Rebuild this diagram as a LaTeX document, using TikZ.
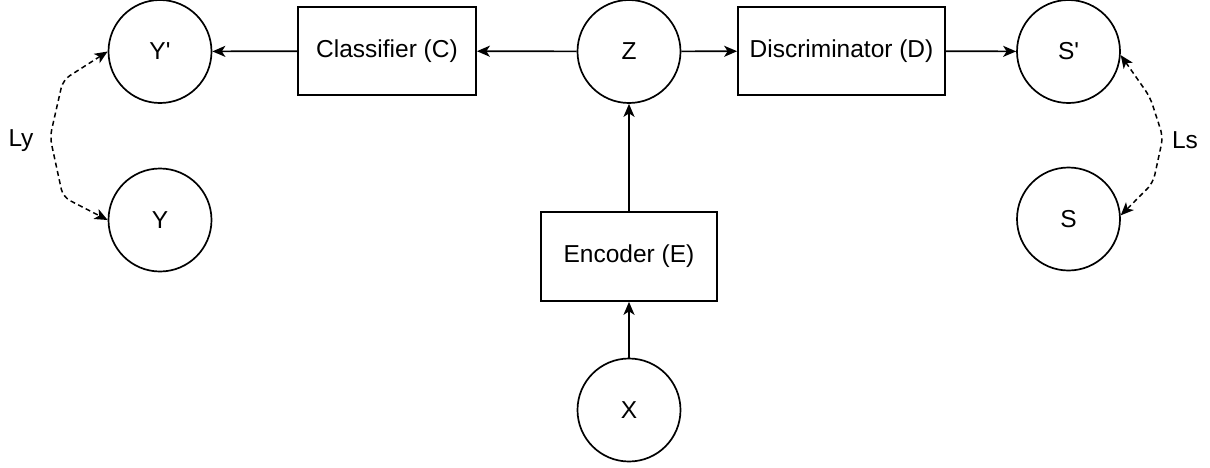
\documentclass[tikz,border=0pt]{standalone}
\usepackage{fontspec}
\setmainfont{Liberation Sans}
\usetikzlibrary{arrows.meta}
\begin{document}
\begin{tikzpicture}[x=1pt,y=-1pt,
  every node/.style={font=\fontsize{24.5}{29}\selectfont, text=black},
  circ/.style={draw, circle, minimum size=103pt, inner sep=0pt, line width=1.7pt},
  blk/.style={draw, rectangle, minimum height=88pt, inner sep=0pt, line width=1.7pt},
  flow/.style={-{Stealth[length=13pt,width=11pt,inset=3.5pt]}, line width=1.7pt},
  loss/.style={{Stealth[length=13pt,width=11pt,inset=3.5pt]}-{Stealth[length=13pt,width=11pt,inset=3.5pt]},
    dash pattern=on 5pt off 3.5pt, line width=1.5pt, rounded corners=8pt},
  lbl/.style={inner sep=0pt}
]
\useasboundingbox (0,0) rectangle (1210,467);

% variables
\node[circ] (Yp) at (160,51.5) {Y\textquotesingle};
\node[circ] (Y)  at (160,220)  {Y};
\node[circ] (Z)  at (629,51.5) {Z};
\node[circ] (X)  at (629,410)  {X};
\node[circ] (Sp) at (1068.5,51.5) {S\textquotesingle};
\node[circ] (S)  at (1068.5,219)  {S};

% networks
\node[blk, minimum width=178pt] (C) at (387,51) {Classifier (C)};
\node[blk, minimum width=207pt] (D) at (841.5,51) {Discriminator (D)};
\node[blk, minimum width=176pt, minimum height=89pt] (E) at (629,256.5) {Encoder (E)};

% data flow
\draw[flow] (X) -- (E);
\draw[flow] (E) -- (Z);
\draw[flow] (Z) -- (C);
\draw[flow] (C) -- (Yp);
\draw[flow] (Z) -- (D);
\draw[flow] (D) -- (Sp);

% losses
\coordinate (ly1) at (63,80);
\coordinate (ly2) at (50,137);
\coordinate (ly3) at (63,197);
\draw[loss] (Yp.west) -- (ly1) -- (ly2) -- (ly3) -- (Y.west);
\node[lbl] (Ly) at (21,141) {Ly};

\coordinate (ls1) at (1150,97);
\coordinate (ls2) at (1163,137);
\coordinate (ls3) at (1153,183);
\draw[loss] (Sp.-4) -- (ls1) -- (ls2) -- (ls3) -- (S.4);
\node[lbl] (Ls) at (1185,140) {Ls};
\end{tikzpicture}
\end{document}
